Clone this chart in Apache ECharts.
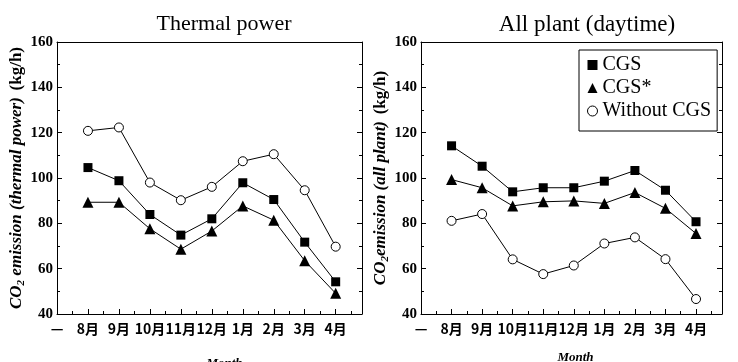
<!DOCTYPE html>
<html>
<head>
<meta charset="utf-8">
<script src="https://cdn.jsdelivr.net/npm/echarts@6/dist/echarts.min.js"></script>
<style>
  html, body { margin: 0; padding: 0; background: #fff; }
  #main { width: 738px; height: 362px; }
</style>
</head>
<body>
<div id="main"></div>
<script>
// x tick labels (index 0 is the dash at the left edge)
var months = ['—', '8月', '9月', '10月', '11月', '12月', '1月', '2月', '3月', '4月'];

// Thermal power (kg/h)
var thermalCGS = [104.6, 98.8, 83.9, 74.8, 82.0, 97.9, 90.5, 71.7, 54.2];
var thermalCGSStar = [89.3, 89.3, 77.6, 68.6, 76.6, 87.7, 81.4, 63.5, 49.1];
var thermalWithout = [120.8, 122.3, 98.0, 90.2, 96.1, 107.4, 110.5, 94.6, 69.7];

// All plant (daytime) (kg/h)
var plantCGS = [114.2, 105.2, 93.9, 95.7, 95.7, 98.6, 103.3, 94.6, 80.7];
var plantCGSStar = [99.3, 95.7, 87.7, 89.5, 89.9, 88.8, 93.6, 86.6, 75.5];
var plantWithout = [81.1, 84.1, 64.1, 57.6, 61.4, 71.1, 73.8, 64.2, 46.6];

var yTicks = [40, 60, 80, 100, 120, 140, 160];

function toPoints(values) {
  return values.map(function (v, i) { return [i + 1, v]; });
}

var serif = 'Liberation Serif';
var rich = {
  it: { fontFamily: serif, fontSize: 17, fontStyle: 'italic', fontWeight: 'bold', color: '#000' },
  sub: { fontFamily: serif, fontSize: 11, fontStyle: 'italic', fontWeight: 'bold', color: '#000', padding: [8, 0, 0, 0] },
  n: { fontFamily: serif, fontSize: 17, fontWeight: 'bold', color: '#000' }
};

function bottomAxis(grid, gap, pad) {
  return {
    type: 'value', gridIndex: grid, min: 0, max: 9.85, interval: 1,
    name: 'Month', nameLocation: 'middle', nameGap: gap,
    nameTextStyle: { fontFamily: serif, fontSize: 13, fontStyle: 'italic', fontWeight: 'bold', color: '#000', padding: pad },
    axisLine: { onZero: false, lineStyle: { color: '#000', width: 1 } },
    axisTick: { inside: true, length: 5, lineStyle: { color: '#000' } },
    minorTick: { show: true, splitNumber: 2, length: 3, lineStyle: { color: '#000' } },
    splitLine: { show: false },
    axisLabel: {
      margin: 8, fontFamily: 'Noto Sans CJK JP', fontWeight: 'bold', fontSize: 14, color: '#000',
      formatter: function (v) { return Number.isInteger(v) ? (months[v] || '') : ''; }
    }
  };
}

function topAxis(grid) {
  return {
    type: 'value', gridIndex: grid, position: 'top', min: 0, max: 9.85,
    axisLine: { show: true, onZero: false, lineStyle: { color: '#000', width: 1 } },
    axisTick: { show: false }, axisLabel: { show: false }, splitLine: { show: false }
  };
}

function leftAxis(grid, name, gap) {
  return {
    type: 'value', gridIndex: grid, min: 40, max: 160, interval: 20,
    name: name, nameLocation: 'middle', nameGap: gap,
    nameTextStyle: { rich: rich },
    axisLine: { show: true, onZero: false, lineStyle: { color: '#000', width: 1 } },
    axisTick: { show: true, inside: true, length: 5, lineStyle: { color: '#000' } },
    minorTick: { show: true, splitNumber: 2, length: 3, lineStyle: { color: '#000' } },
    splitLine: { show: false },
    axisLabel: {
      margin: 4, fontFamily: serif, fontWeight: 'bold', fontSize: 15, color: '#000',
      formatter: function (v) { return yTicks.indexOf(v) >= 0 ? String(v) : ''; }
    }
  };
}

function rightAxis(grid) {
  return {
    type: 'value', gridIndex: grid, position: 'right', min: 40, max: 160, interval: 20,
    axisLine: { show: true, onZero: false, lineStyle: { color: '#000', width: 1 } },
    axisTick: { show: true, inside: true, length: 5, lineStyle: { color: '#000' } },
    minorTick: { show: true, splitNumber: 2, length: 3, lineStyle: { color: '#000' } },
    splitLine: { show: false }, axisLabel: { show: false }
  };
}

function makeSeries(name, values, xi, yi, symbol, size, hollow) {
  return {
    name: name, type: 'line', xAxisIndex: xi, yAxisIndex: yi,
    data: toPoints(values),
    symbol: symbol, symbolSize: size, showSymbol: true,
    lineStyle: { color: '#000', width: 1 },
    itemStyle: hollow ? { color: '#fff', borderColor: '#000', borderWidth: 1 } : { color: '#000' },
    z: 3
  };
}

var chart = echarts.init(document.getElementById('main'));
chart.setOption({
  animation: false,
  backgroundColor: '#fff',
  title: [
    { text: 'Thermal power', left: 219, top: 8, textAlign: 'center',
      textStyle: { fontFamily: serif, fontSize: 22, fontWeight: 'normal', color: '#000' } },
    { text: 'All plant (daytime)', left: 582, top: 8, textAlign: 'center',
      textStyle: { fontFamily: serif, fontSize: 23, fontWeight: 'normal', color: '#000' } }
  ],
  legend: {
    orient: 'vertical', left: 579, top: 50,
    padding: [5, 6, 10, 8], itemGap: 3, itemWidth: 10, itemHeight: 10,
    borderColor: '#000', borderWidth: 1, backgroundColor: '#fff',
    textStyle: { fontFamily: serif, fontSize: 20, color: '#000' },
    data: [
      { name: 'CGS', icon: 'rect', itemStyle: { color: '#000' } },
      { name: 'CGS*', icon: 'triangle', itemStyle: { color: '#000' } },
      { name: 'Without CGS', icon: 'circle', itemStyle: { color: '#fff', borderColor: '#000', borderWidth: 1 } }
    ]
  },
  grid: [
    { left: 57, top: 42, width: 305, height: 272, outerBoundsMode: 'none', containLabel: false },
    { left: 421, top: 42, width: 301, height: 272, outerBoundsMode: 'none', containLabel: false }
  ],
  xAxis: [
    bottomAxis(0, 43, [0, 0, 0, 30]), topAxis(0),
    bottomAxis(1, 37, [0, 0, 0, 8]), topAxis(1)
  ],
  yAxis: [
    leftAxis(0, '{it|CO}{sub|2}{it| emission (thermal power)}  {n|(kg/h)}', 23), rightAxis(0),
    leftAxis(1, '{it|CO}{sub|2}{it|emission (all plant)}  {n|(kg/h)}', 19), rightAxis(1)
  ],
  series: [
    makeSeries('CGS', thermalCGS, 0, 0, 'rect', 9, false),
    makeSeries('CGS*', thermalCGSStar, 0, 0, 'triangle', 11, false),
    makeSeries('Without CGS', thermalWithout, 0, 0, 'circle', 9, true),
    makeSeries('CGS', plantCGS, 2, 2, 'rect', 9, false),
    makeSeries('CGS*', plantCGSStar, 2, 2, 'triangle', 11, false),
    makeSeries('Without CGS', plantWithout, 2, 2, 'circle', 9, true)
  ]
});
</script>
</body>
</html>
